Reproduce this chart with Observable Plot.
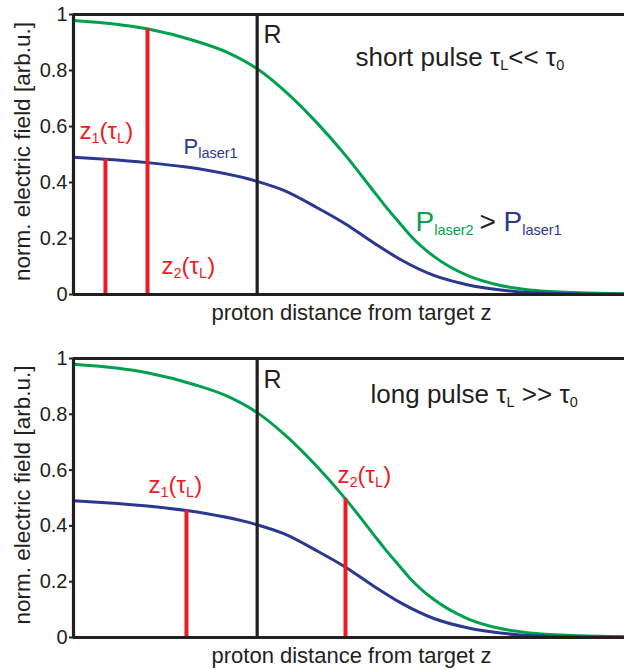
<!DOCTYPE html>
<html>
<head>
<meta charset="utf-8">
<script src="https://cdn.jsdelivr.net/npm/d3@7"></script>
<script src="https://cdn.jsdelivr.net/npm/@observablehq/plot@0.6"></script>
<style>
  html, body { margin: 0; padding: 0; background: #fff; }
  #chart svg { display: block; }
</style>
</head>
<body>
<div id="chart"></div>
<script>
// Normalised accelerating field versus proton distance z (arbitrary units, R at z = 1)
const zHigh = [0, 0.401, 0.655, 0.837, 1.0, 1.145, 1.327, 1.481, 1.635, 1.69, 1.78, 1.835, 1.962, 2.144, 2.325, 2.505, 2.75, 3.0];
const fieldHigh = [0.979, 0.949, 0.907, 0.865, 0.806, 0.73, 0.612, 0.497, 0.368, 0.322, 0.252, 0.21, 0.136, 0.068, 0.032, 0.015, 0.006, 0.003];

const zLow = [0, 0.176, 0.401, 0.615, 1.0, 1.145, 1.327, 1.481, 1.635, 1.78, 1.962, 2.144, 2.325, 2.505, 2.75, 3.0];
const fieldLow = [0.49, 0.483, 0.471, 0.455, 0.404, 0.372, 0.31, 0.252, 0.184, 0.125, 0.068, 0.035, 0.016, 0.006, 0.002, 0.001];

// Target radius R
const radiusZ = 1.0;

// Acceleration distances z1, z2 for each pulse regime
const shortPulseZ = [0.174, 0.403];
const shortPulseField = [0.483, 0.949];
const longPulseZ = [0.615, 1.481];
const longPulseField = [0.455, 0.497];

const yTicks = [0, 0.2, 0.4, 0.6, 0.8, 1];
const yTickLabels = ["0", "0.2", "0.4", "0.6", "0.8", "1"];

const xTitle = "proton distance from target z";
const yTitle = "norm. electric field [arb.u.]";

const FONT = "'Liberation Sans', Arial, Helvetica, sans-serif";
const INK = "#231f20";
const GREEN = "#00a14e";
const BLUE = "#2b388f";
const RED = "#ed1c24";

const highCurve = zHigh.map((z, i) => ({z, field: fieldHigh[i]}));
const lowCurve = zLow.map((z, i) => ({z, field: fieldLow[i]}));

// Text written as "a_{b}" gets b set as a subscript
function subscripts(svg) {
  const ns = "http://www.w3.org/2000/svg";
  svg.querySelectorAll("text").forEach(t => {
    const s = t.textContent;
    if (!s.includes("_{")) return;
    const parts = s.split(/(_\{[^}]*\})/).filter(p => p);
    t.textContent = "";
    let shifted = false;
    for (const p of parts) {
      const span = document.createElementNS(ns, "tspan");
      if (p.startsWith("_{")) {
        span.textContent = p.slice(2, -1);
        span.setAttribute("font-size", 14.5);
        span.setAttribute("dy", shifted ? 0 : 4);
        shifted = true;
      } else {
        span.textContent = p;
        if (shifted) span.setAttribute("dy", -4);
        shifted = false;
      }
      t.appendChild(span);
    }
  });
  return svg;
}

function label(text, dx, dy, fontSize, fill = INK) {
  return Plot.text([text], {
    text: d => d,
    frameAnchor: "top-left",
    textAnchor: "start",
    lineAnchor: "bottom",
    dx, dy, fontSize, fill
  });
}

function panel({zs, tops, marginTop, marginBottom, labels}) {
  const lines = zs.map((z, i) => ({z, top: tops[i]}));
  return subscripts(Plot.plot({
    width: 624,
    height: 335,
    marginLeft: 73,
    marginRight: 0,
    marginTop,
    marginBottom,
    x: {domain: [0, 3], axis: null},
    y: {domain: [0, 1], axis: null},
    style: {fontFamily: FONT, color: INK, background: "#fff"},
    marks: [
      Plot.line(highCurve, {x: "z", y: "field", stroke: GREEN, strokeWidth: 3, curve: "monotone-x"}),
      Plot.line(lowCurve, {x: "z", y: "field", stroke: BLUE, strokeWidth: 3, curve: "monotone-x"}),
      Plot.ruleX(lines, {x: "z", y1: 0, y2: "top", stroke: RED, strokeWidth: 4}),
      Plot.ruleX([radiusZ], {stroke: INK, strokeWidth: 3.2}),
      Plot.ruleY([0, 1], {stroke: INK, strokeWidth: 3.2}),
      Plot.ruleX([0], {stroke: INK, strokeWidth: 3.2}),
      Plot.axisY({
        ticks: yTicks,
        tickFormat: d => yTickLabels[yTicks.indexOf(d)],
        tickSize: 4,
        tickPadding: 2,
        strokeWidth: 2,
        fontSize: 20,
        color: INK,
        label: null
      }),
      Plot.text([yTitle], {
        text: d => d, frameAnchor: "left", textAnchor: "middle", rotate: -90, lineAnchor: "bottom",
        dx: -44, dy: -3, fontSize: 22.5, fill: INK
      }),
      Plot.text([xTitle], {
        text: d => d, frameAnchor: "bottom", textAnchor: "middle", lineAnchor: "bottom",
        dx: 2.5, dy: 25, fontSize: 22, fill: INK
      }),
      ...labels
    ]
  }));
}

const shortPanel = panel({
  zs: shortPulseZ,
  tops: shortPulseField,
  marginTop: 14,
  marginBottom: 41,
  labels: [
    label("R", 190, 28, 25),
    label("short pulse τ_{L}<< τ_{0}", 282, 51, 26),
    label("z_{1}(τ_{L})", 6, 124, 24, RED),
    label("P_{laser1}", 110, 139, 22, BLUE),
    label("z_{2}(τ_{L})", 88, 259, 24, RED),
    label("P_{laser2}", 342, 216, 28, GREEN),
    label(">", 406, 216, 28),
    label("P_{laser1}", 430, 216, 28, BLUE)
  ]
});

const longPanel = panel({
  zs: longPulseZ,
  tops: longPulseField,
  marginTop: 23,
  marginBottom: 33,
  labels: [
    label("R", 190, 29, 25),
    label("long pulse τ_{L} >> τ_{0}", 297, 44, 26),
    label("z_{1}(τ_{L})", 75, 134, 24, RED),
    label("z_{2}(τ_{L})", 264, 124, 24, RED)
  ]
});

const chart = document.getElementById("chart");
chart.appendChild(shortPanel);
chart.appendChild(longPanel);
</script>
</body>
</html>
